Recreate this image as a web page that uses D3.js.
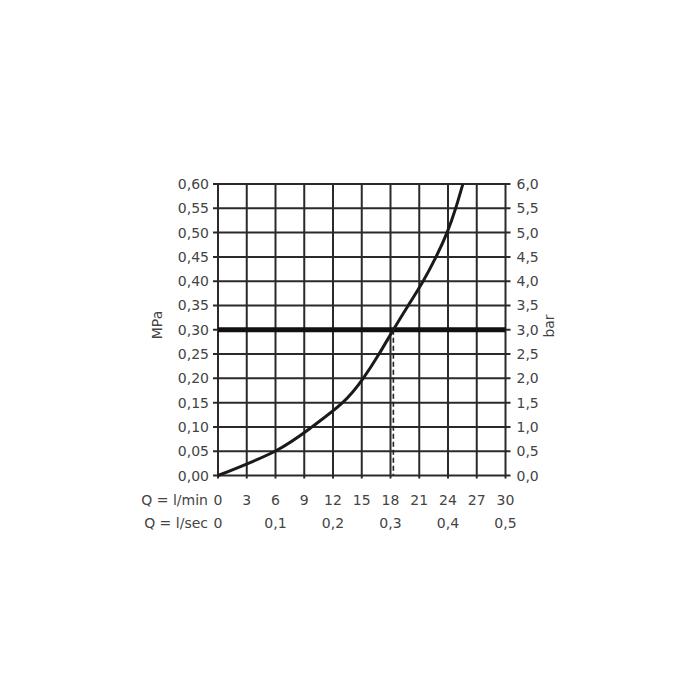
<!DOCTYPE html>
<html><head><meta charset="utf-8">
<script src="https://cdn.jsdelivr.net/npm/d3@7/dist/d3.min.js"></script>
<style>body{margin:0;background:#fff}svg{display:block}</style>
</head><body>
<svg id="c" width="700" height="700"></svg>
<script>
const flowTicks = [0,3,6,9,12,15,18,21,24,27,30];
const secTicks = [0,0.1,0.2,0.3,0.4,0.5];
const mpaTicks = [0,0.05,0.10,0.15,0.20,0.25,0.30,0.35,0.40,0.45,0.50,0.55,0.60];
const barTicks = [0,0.5,1,1.5,2,2.5,3,3.5,4,4.5,5,5.5,6];
const curveQ = [0, 5.95, 9.8, 13.0, 15.15, 16.8, 18.3, 19.85, 21.4, 22.75, 23.9, 24.8, 25.55];
const curveP = [0, 0.05, 0.10, 0.15, 0.20, 0.25, 0.30, 0.35, 0.40, 0.45, 0.50, 0.55, 0.60];
const refP = 0.30;
const refQ = 18.3;

const svg = d3.select('#c');
const L = 218, R = 505.5, T = 184, B = 475.5;
const x = d3.scaleLinear().domain([0,30]).range([L,R]);
const y = d3.scaleLinear().domain([0,0.6]).range([B,T]);
const yb = d3.scaleLinear().domain([0,6]).range([B,T]);
const fmt2 = d => d3.format('.2f')(d).replace('.', ',');
const fmt1 = d => d3.format('.1f')(d).replace('.', ',');
const fmtS = d => d === 0 ? '0' : d3.format('.1f')(d).replace('.', ',');
const font = "'DejaVu Sans', sans-serif";
const tcol = '#444';
const gcol = '#2a2a2a';

const g = svg.append('g');
g.selectAll('.vx').data(flowTicks).join('line')
  .attr('x1', d => x(d)).attr('x2', d => x(d))
  .attr('y1', T).attr('y2', B + 3)
  .attr('stroke', gcol).attr('stroke-width', 2);
g.selectAll('.hy').data(mpaTicks).join('line')
  .attr('x1', L - 5).attr('x2', R + 5)
  .attr('y1', d => y(d)).attr('y2', d => y(d))
  .attr('stroke', gcol).attr('stroke-width', 2);

g.append('line').attr('x1', L).attr('x2', R).attr('y1', y(refP)).attr('y2', y(refP))
  .attr('stroke', '#111').attr('stroke-width', 5);
g.append('line').attr('x1', x(refQ)).attr('x2', x(refQ)).attr('y1', y(refP)).attr('y2', y(0))
  .attr('stroke', '#222').attr('stroke-width', 1.6).attr('stroke-dasharray', '5,3');

const pts = curveQ.map((q,i) => [q, curveP[i]]);
g.append('path').datum(pts)
  .attr('d', d3.line().x(d => x(d[0])).y(d => y(d[1])).curve(d3.curveNatural))
  .attr('fill', 'none').attr('stroke', '#1a1a1a').attr('stroke-width', 3);

g.selectAll('.ly').data(mpaTicks).join('text')
  .attr('x', L - 9).attr('y', d => y(d)).attr('dy', '0.36em')
  .attr('text-anchor', 'end').attr('font-family', font).attr('font-size', 14).attr('fill', tcol)
  .text(fmt2);
g.selectAll('.ry').data(barTicks).join('text')
  .attr('x', R + 11).attr('y', d => yb(d)).attr('dy', '0.36em')
  .attr('text-anchor', 'start').attr('font-family', font).attr('font-size', 14).attr('fill', tcol)
  .text(fmt1);
g.selectAll('.bx').data(flowTicks).join('text')
  .attr('x', d => x(d)).attr('y', 505)
  .attr('text-anchor', 'middle').attr('font-family', font).attr('font-size', 14).attr('fill', tcol)
  .text(d => d);
g.selectAll('.sx').data(secTicks).join('text')
  .attr('x', d => x(d*60)).attr('y', 528)
  .attr('text-anchor', 'middle').attr('font-family', font).attr('font-size', 14).attr('fill', tcol)
  .text(fmtS);
g.append('text').attr('x', 208).attr('y', 505).attr('text-anchor', 'end')
  .attr('font-family', font).attr('font-size', 14).attr('fill', tcol).text('Q = l/min');
g.append('text').attr('x', 208).attr('y', 528).attr('text-anchor', 'end')
  .attr('font-family', font).attr('font-size', 14).attr('fill', tcol).text('Q = l/sec');
g.append('text').attr('transform', 'translate(162,325) rotate(-90)').attr('text-anchor', 'middle')
  .attr('font-family', font).attr('font-size', 14).attr('fill', tcol).text('MPa');
g.append('text').attr('transform', 'translate(554,326) rotate(-90)').attr('text-anchor', 'middle')
  .attr('font-family', font).attr('font-size', 14).attr('fill', tcol).text('bar');
</script>
</body></html>
